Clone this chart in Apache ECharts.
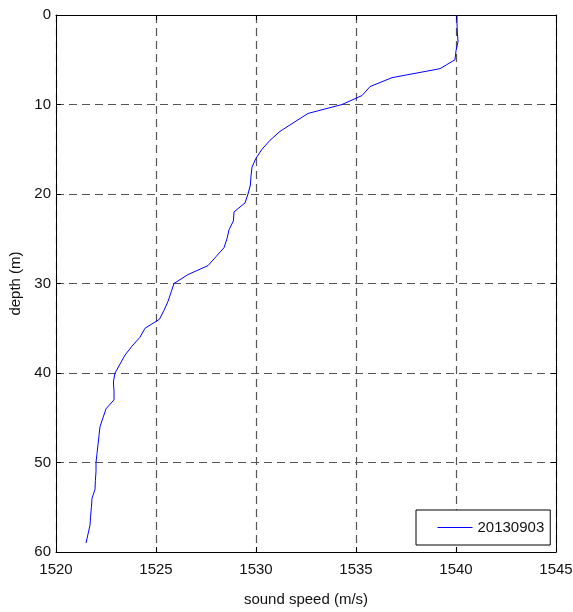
<!DOCTYPE html>
<html>
<head>
<meta charset="utf-8">
<script src="https://cdn.jsdelivr.net/npm/echarts@6/dist/echarts.min.js"></script>
<style>
  html, body { margin: 0; padding: 0; background: #fff; }
  #main { width: 573px; height: 612px; }
</style>
</head>
<body>
<div id="main"></div>
<script>
// sound speed profile
const depths = [0, 1, 2, 3, 4, 5, 6, 7, 8, 9, 10, 11, 12, 13, 14, 15, 16, 17, 18, 19,
  20, 21, 22, 23, 24, 25, 26, 27, 28, 29, 30, 31, 32, 33, 34, 35, 36, 37, 38, 39,
  40, 41, 42, 43, 44, 45, 46, 47, 48, 49, 50, 51, 52, 53, 54, 55, 56, 57, 58, 59];
const speeds = [1540.05, 1540.05, 1540.07, 1540.1, 1540.0, 1539.95, 1539.2, 1536.8, 1535.7, 1535.3,
  1534.3, 1532.6, 1531.9, 1531.2, 1530.7, 1530.3, 1530.0, 1529.8, 1529.75, 1529.72,
  1529.6, 1529.45, 1528.9, 1528.87, 1528.65, 1528.55, 1528.4, 1528.0, 1527.6, 1526.6,
  1525.9, 1525.75, 1525.6, 1525.4, 1525.17, 1524.45, 1524.2, 1523.8, 1523.45, 1523.2,
  1522.95, 1522.87, 1522.9, 1522.9, 1522.5, 1522.35, 1522.2, 1522.15, 1522.1, 1522.05,
  1522.0, 1522.0, 1521.97, 1521.95, 1521.8, 1521.77, 1521.73, 1521.7, 1521.6, 1521.5];
const seriesName = '20130903';
const xTitle = 'sound speed (m/s)';
const yTitle = 'depth (m)';

const font = "'Liberation Sans', Arial, sans-serif";
const fontSize = 15;
const lineColor = '#0000ff';
let chart = echarts.init(document.getElementById('main'));

const gridDash = {
  show: true,
  lineStyle: { color: '#555', width: 1.2, type: [8, 5] },
};
const boxAxis = {
  axisLine: { show: true, onZero: false, lineStyle: { color: '#000', width: 1 } },
  axisTick: { show: true, inside: true, length: 5, lineStyle: { color: '#000' } },
};

let option = {
  animation: false,
  backgroundColor: '#fff',
  textStyle: { fontFamily: font },
  grid: { left: 56, right: 17, top: 15, bottom: 60, containLabel: false, outerBoundsMode: 'none' },
  legend: {
    data: [seriesName],
    left: 416,
    top: 510,
    padding: [10, 6, 10, 21],
    backgroundColor: '#fff',
    borderColor: '#000',
    borderWidth: 1,
    borderRadius: 0,
    itemWidth: 35,
    itemHeight: 14,
    itemGap: 5,
    // hide the marker, keep only the line sample
    itemStyle: { opacity: 0 },
    lineStyle: { width: 1, color: lineColor, opacity: 1 },
    textStyle: { fontFamily: font, fontSize: fontSize, color: '#111' },
  },
  xAxis: [
    {
      type: 'value',
      position: 'bottom',
      min: 1520,
      max: 1545,
      interval: 5,
      name: xTitle,
      nameLocation: 'middle',
      nameGap: 40,
      nameTextStyle: { fontFamily: font, fontSize: fontSize, color: '#111' },
      axisLabel: { margin: 10, fontFamily: font, fontSize: fontSize, color: '#111', formatter: (v) => String(v) },
      splitLine: gridDash,
      ...boxAxis,
    },
    {
      type: 'value',
      position: 'top',
      min: 1520,
      max: 1545,
      interval: 5,
      axisLabel: { show: false },
      splitLine: { show: false },
      ...boxAxis,
    },
  ],
  yAxis: [
    {
      type: 'value',
      position: 'left',
      inverse: true,
      min: 0,
      max: 60,
      interval: 10,
      name: yTitle,
      nameLocation: 'middle',
      nameGap: 32,
      nameTextStyle: { fontFamily: font, fontSize: fontSize, color: '#111' },
      axisLabel: { margin: 5, fontFamily: font, fontSize: fontSize, color: '#111' },
      splitLine: gridDash,
      ...boxAxis,
    },
    {
      type: 'value',
      position: 'right',
      inverse: true,
      min: 0,
      max: 60,
      interval: 10,
      axisLabel: { show: false },
      splitLine: { show: false },
      ...boxAxis,
    },
  ],
  series: [
    {
      name: seriesName,
      type: 'line',
      xAxisIndex: 0,
      yAxisIndex: 0,
      symbol: 'none',
      showSymbol: false,
      lineStyle: { color: lineColor, width: 1 },
      itemStyle: { color: lineColor },
      data: depths.map((d, i) => [speeds[i], d]),
    },
  ],
};

chart.setOption(option);
</script>
</body>
</html>
